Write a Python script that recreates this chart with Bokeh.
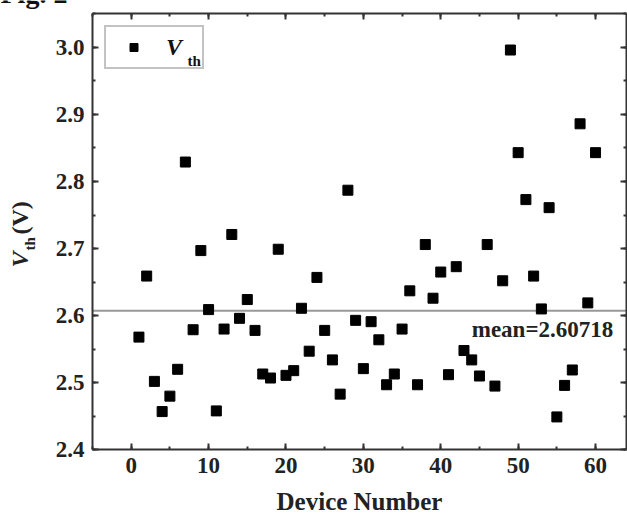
import math
from bokeh.plotting import figure
from bokeh.models import (Label, LinearAxis, SingleIntervalTicker, Range1d,
                          PrintfTickFormatter, CustomLabelingPolicy)
from bokeh.embed import file_html
from bokeh.resources import INLINE

device = list(range(1, 61))
vth = [2.568, 2.659, 2.502, 2.457, 2.480, 2.520, 2.829, 2.579, 2.697, 2.609,
       2.458, 2.580, 2.721, 2.596, 2.624, 2.578, 2.513, 2.507, 2.699, 2.511,
       2.518, 2.611, 2.547, 2.657, 2.578, 2.534, 2.483, 2.787, 2.593, 2.521,
       2.591, 2.564, 2.497, 2.513, 2.580, 2.637, 2.497, 2.706, 2.626, 2.665,
       2.512, 2.673, 2.548, 2.534, 2.510, 2.706, 2.495, 2.652, 2.996, 2.843,
       2.773, 2.659, 2.610, 2.761, 2.449, 2.496, 2.519, 2.886, 2.619, 2.843]
mean_value = 2.60718
mean_text = "mean=2.60718"
x_title = "Device Number"
fig_title = "Fig. 2"
x_limits = (-5, 64)
y_limits = (2.4, 3.05)

W, H = 627, 516
# plot box placement in pixels (left, right, top, bottom margins)
ML, MR, MT, MB = 92, 1, 13.3, 66.7

FONT = "Liberation Serif"
AX = "#333333"
TXT = "#222222"

xs = (W - ML - MR) / (x_limits[1] - x_limits[0])
ys = (H - MT - MB) / (y_limits[1] - y_limits[0])
x_view = Range1d(x_limits[0] - ML / xs, x_limits[1] + MR / xs)
y_view = Range1d(y_limits[0] - MB / ys, y_limits[1] + MT / ys)

p = figure(width=W, height=H, output_backend="svg", toolbar_location=None,
           x_range=x_view, y_range=y_view,
           min_border_left=0, min_border_right=0, min_border_top=0,
           min_border_bottom=0, x_axis_location=None, y_axis_location=None)
p.grid.visible = False
p.outline_line_color = None
p.background_fill_color = "white"
p.border_fill_color = "white"


def style_axis(ax, labels=True):
    ax.axis_line_color = AX
    ax.axis_line_width = 2
    ax.major_tick_line_color = AX
    ax.major_tick_line_width = 2
    ax.minor_tick_line_color = AX
    ax.minor_tick_line_width = 2
    ax.major_tick_in = 6
    ax.major_tick_out = 0
    ax.minor_tick_in = 3
    ax.minor_tick_out = 0
    ax.major_label_text_font = FONT
    ax.major_label_text_font_style = "bold"
    ax.major_label_text_color = TXT
    if labels:
        ax.major_label_text_font_size = "23px"
        ax.major_label_standoff = 8
    else:
        ax.major_label_text_font_size = "1px"
        ax.major_label_standoff = 0
        ax.major_label_policy = CustomLabelingPolicy(code="return new Set()")


xt = lambda: SingleIntervalTicker(interval=10, num_minor_ticks=2)
yt = lambda: SingleIntervalTicker(interval=0.1, num_minor_ticks=2)

bx = LinearAxis(ticker=xt(), fixed_location=y_limits[0], bounds=x_limits)
style_axis(bx)
bx.axis_label = x_title
bx.axis_label_text_font = FONT
bx.axis_label_text_font_style = "bold"
bx.axis_label_text_font_size = "25px"
bx.axis_label_text_color = TXT
bx.axis_label_standoff = 12
p.add_layout(bx, "below")

ly = LinearAxis(ticker=yt(), formatter=PrintfTickFormatter(format="%.1f"),
                fixed_location=x_limits[0], bounds=y_limits)
style_axis(ly)
p.add_layout(ly, "left")

tx = LinearAxis(ticker=xt(), fixed_location=y_limits[1], bounds=x_limits)
style_axis(tx, labels=False)
p.add_layout(tx, "above")

ry = LinearAxis(ticker=yt(), fixed_location=x_limits[1], bounds=y_limits)
style_axis(ry, labels=False)
p.add_layout(ry, "right")

# mean line across the plot box
p.line(list(x_limits), [mean_value, mean_value], line_color="#999999",
       line_width=2)

p.scatter(device, vth, marker="square", size=10, color="black",
          legend_label="V")

lg = p.legend[0]
lg.location = (104, 447)
lg.border_line_color = "#888888"
lg.border_line_width = 2
lg.background_fill_alpha = 0
lg.padding = 1
lg.margin = 0
lg.glyph_width = 53
lg.glyph_height = 20
lg.label_standoff = 6
lg.label_width = 35
lg.label_height = 38
lg.label_text_font = FONT
lg.label_text_font_style = "bold italic"
lg.label_text_font_size = "24px"
lg.label_text_color = "#111111"


def slabel(text, cx, cy, size, style="bold", angle=0.0, color=TXT):
    # cx, cy: pixel position from the top-left of the picture
    p.add_layout(Label(x=cx, y=H - cy, x_units="screen", y_units="screen",
                       text=text, angle=angle, text_font=FONT,
                       text_font_style=style, text_font_size=size,
                       text_color=color))


slabel("th", 187, 68, "15px", color="#111111")

p.add_layout(Label(x=44.0, y=2.560, text=mean_text, text_font=FONT,
                   text_font_style="bold", text_font_size="23px",
                   text_color=TXT))

rot = math.pi / 2
slabel("V", 32, 267, "24px", style="bold italic", angle=rot)
slabel("th", 37, 250, "15px", angle=rot)
slabel("(V)", 32, 234, "24px", angle=rot)

slabel(fig_title, 0, 8, "28px", color="#111111")

open("out.html", "w").write(file_html(p, INLINE))
